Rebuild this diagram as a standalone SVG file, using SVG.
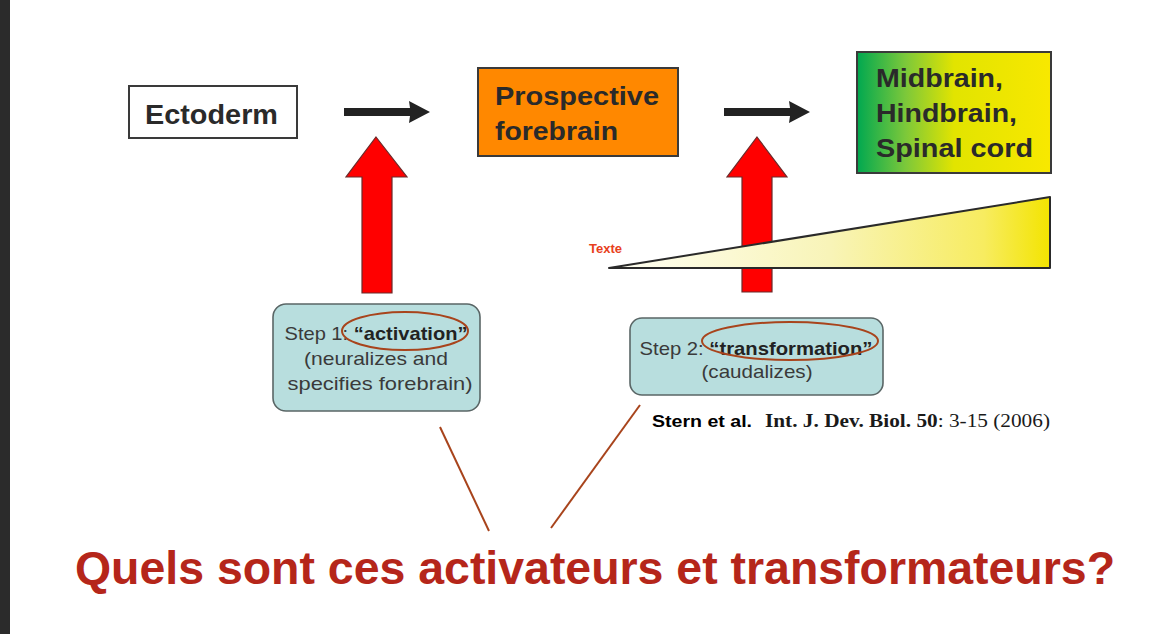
<svg xmlns="http://www.w3.org/2000/svg" width="1168" height="634" viewBox="0 0 1168 634">
<style>
.box{stroke:#3a3a3a;stroke-width:2}
.big{font-family:"Liberation Sans",Arial,sans-serif;font-weight:bold;fill:#2a2a2a}
.step{font-family:"Liberation Sans",Arial,sans-serif;font-size:19px;fill:#3a3a3a;text-anchor:middle}
.stepbox{fill:#b8dede;stroke:#5a6666;stroke-width:1.6}
.ring{fill:none;stroke:#a8441c;stroke-width:2}
.red{fill:#ff0000;stroke:#6a2a2a;stroke-width:1.2}
.blk{fill:#222}
.ptr{stroke:#a8441c;stroke-width:2}
</style>
<defs>
<linearGradient id="gMid" x1="0" y1="0" x2="1" y2="0">
<stop offset="0" stop-color="#00a850"/>
<stop offset="0.25" stop-color="#7cc83a"/>
<stop offset="0.5" stop-color="#e2e400"/>
<stop offset="1" stop-color="#f8e800"/>
</linearGradient>
<linearGradient id="gTri" x1="0" y1="0" x2="1" y2="0">
<stop offset="0" stop-color="#fffff4"/>
<stop offset="0.5" stop-color="#f8f4b8"/>
<stop offset="0.85" stop-color="#f7ec60"/>
<stop offset="1" stop-color="#f3e400"/>
</linearGradient>
</defs>
<rect x="0" y="0" width="1168" height="634" fill="#ffffff"/>
<rect x="0" y="0" width="10" height="634" fill="#2b2b2b"/>

<g id="ectoderm">
<rect class="box" x="129" y="86" width="168" height="52" fill="#ffffff"/>
<text class="big" x="145" y="124" font-size="27" textLength="133" lengthAdjust="spacingAndGlyphs">Ectoderm</text>
</g>

<g id="prospective-forebrain">
<rect class="box" x="478" y="68" width="200" height="88" fill="#ff8800"/>
<text class="big" x="495" y="105" font-size="26" textLength="164" lengthAdjust="spacingAndGlyphs">Prospective</text>
<text class="big" x="495" y="140" font-size="26" textLength="123" lengthAdjust="spacingAndGlyphs">forebrain</text>
</g>

<g id="midbrain">
<rect class="box" x="857" y="52" width="194" height="121" fill="url(#gMid)"/>
<text class="big" x="876" y="87" font-size="26" textLength="127" lengthAdjust="spacingAndGlyphs">Midbrain,</text>
<text class="big" x="876" y="122" font-size="26" textLength="141" lengthAdjust="spacingAndGlyphs">Hindbrain,</text>
<text class="big" x="876" y="157" font-size="26" textLength="157" lengthAdjust="spacingAndGlyphs">Spinal cord</text>
</g>

<g id="connectors">
<polygon class="blk" points="344,108 410,108 409,101 430,112 409,123 410,116 344,116"/>
<polygon class="blk" points="724,108 790,108 789,101 810,112 789,123 790,116 724,116"/>
<polygon class="red" points="376,137 407,177 392,177 392,293 362,293 362,177 346,177"/>
<polygon class="red" points="757,137 787,177 772,177 772,292 742,292 742,177 727,177"/>
<line class="ptr" x1="440" y1="427" x2="489" y2="531"/>
<line class="ptr" x1="640" y1="405" x2="551" y2="528"/>
</g>

<g id="gradient-wedge">
<polygon points="609,268 1050,197 1050,268" fill="url(#gTri)" stroke="#2a2a2a" stroke-width="2" stroke-linejoin="round"/>
<text x="589" y="253" font-family="Liberation Sans,Arial,sans-serif" font-weight="bold" font-size="13" fill="#e8401c">Texte</text>
</g>

<g id="step1">
<rect class="stepbox" x="273" y="304" width="207" height="107" rx="13"/>
<text class="step" x="376" y="340" textLength="183" lengthAdjust="spacingAndGlyphs">Step 1: <tspan font-weight="bold" fill="#222">“activation”</tspan></text>
<text class="step" x="376" y="365" textLength="144" lengthAdjust="spacingAndGlyphs">(neuralizes and</text>
<text class="step" x="380" y="390" textLength="185" lengthAdjust="spacingAndGlyphs">specifies forebrain)</text>
<ellipse class="ring" cx="405" cy="331" rx="63" ry="19"/>
</g>

<g id="step2">
<rect class="stepbox" x="630" y="318" width="253" height="77" rx="12"/>
<text class="step" x="756" y="355" textLength="233" lengthAdjust="spacingAndGlyphs">Step 2: <tspan font-weight="bold" fill="#222">“transformation”</tspan></text>
<text class="step" x="757" y="378" textLength="111" lengthAdjust="spacingAndGlyphs">(caudalizes)</text>
<ellipse class="ring" cx="790" cy="341" rx="88" ry="19"/>
</g>

<g id="citation">
<text x="652" y="427" font-family="Liberation Sans,Arial,sans-serif" font-weight="bold" font-size="17" fill="#000" textLength="100" lengthAdjust="spacingAndGlyphs">Stern et al.</text>
<text x="765" y="427" font-family="Liberation Serif,Times New Roman,serif" font-size="18" fill="#1a1a1a" textLength="285" lengthAdjust="spacingAndGlyphs"><tspan font-weight="bold">Int. J. Dev. Biol. 50</tspan>: 3-15 (2006)</text>
</g>

<g id="question">
<text x="75" y="584" font-family="Liberation Sans,Arial,sans-serif" font-weight="bold" font-size="46" fill="#b5261a" textLength="1040" lengthAdjust="spacingAndGlyphs">Quels sont ces activateurs et transformateurs?</text>
</g>
</svg>
